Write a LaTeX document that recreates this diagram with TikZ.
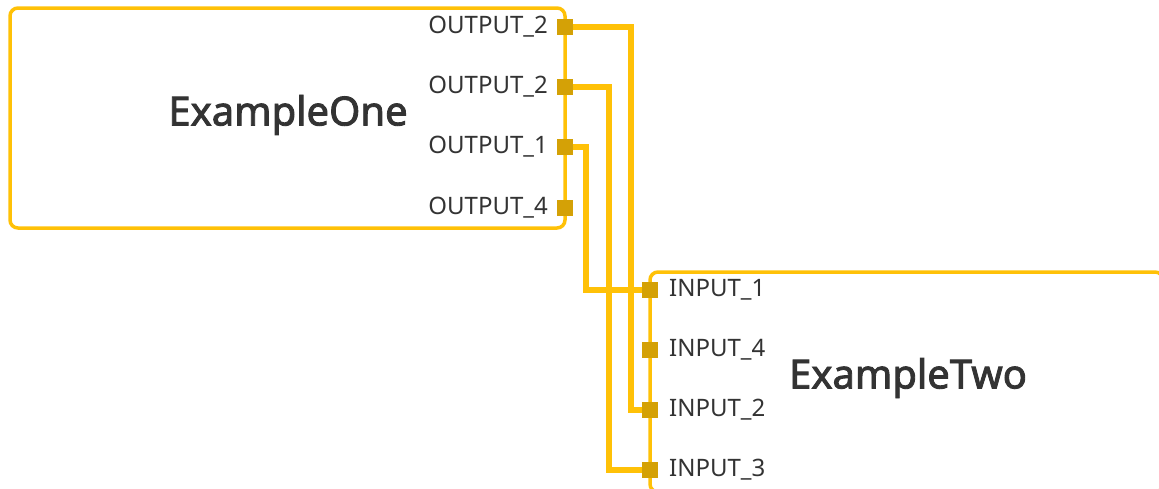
\documentclass[tikz,border=0pt]{standalone}
\usepackage{fontspec}
\setmainfont{Noto Sans}
\newfontfamily\titlefont[FakeBold=2.2]{Noto Sans}
\usetikzlibrary{backgrounds}
\definecolor{amber}{HTML}{FFC107}
\definecolor{portc}{HTML}{D4A106}
\definecolor{txt}{HTML}{333333}
\begin{document}
\begin{tikzpicture}[x=1pt,y=-1pt,
  box/.style={draw=amber,line width=3.5pt,rounded corners=8pt,inner sep=0pt,outer sep=0pt},
  port/.style={fill=portc,minimum size=16pt,inner sep=0pt,outer sep=0pt},
  plabel/.style={text=txt,font=\fontsize{24}{28}\selectfont,inner sep=0pt},
  title/.style={text=txt,font=\titlefont\fontsize{40}{46}\selectfont,inner sep=0pt},
  wire/.style={draw=amber,line width=6.5pt}]
\useasboundingbox (0,0) rectangle (1159,488);
\clip (0,0) rectangle (1159,488);
% boxes
\node (box1) [box,anchor=north west,minimum width=555pt,minimum height=220pt] at (10,8) {};
\node (box2) [box,anchor=north west,minimum width=513pt,minimum height=220pt] at (650,272) {};
\node (t1) [title] at (288,115) {ExampleOne};
\node (t2) [title] at (908,378) {ExampleTwo};
% output ports
\node (o1) [port] at (565,27) {};
\node (o2) [port] at (565,87) {};
\node (o3) [port] at (565,147) {};
\node (o4) [port] at (565,208) {};
\node (lo1) [plabel,anchor=east] at (548,27) {OUTPUT\_2};
\node (lo2) [plabel,anchor=east] at (548,87) {OUTPUT\_2};
\node (lo3) [plabel,anchor=east] at (548,147) {OUTPUT\_1};
\node (lo4) [plabel,anchor=east] at (548,208) {OUTPUT\_4};
% input ports
\node (i1) [port] at (650,290) {};
\node (i2) [port] at (650,350) {};
\node (i3) [port] at (650,410) {};
\node (i4) [port] at (650,470) {};
\node (li1) [plabel,anchor=west] at (669,290) {INPUT\_1};
\node (li2) [plabel,anchor=west] at (669,350) {INPUT\_4};
\node (li3) [plabel,anchor=west] at (669,410) {INPUT\_2};
\node (li4) [plabel,anchor=west] at (669,470) {INPUT\_3};
% wires
\begin{scope}[on background layer]
\draw[wire] (o1.center) -- ++(66,0) |- (i3.center);
\draw[wire] (o2.center) -- ++(44,0) |- (i4.center);
\draw[wire] (o3.center) -- ++(21,0) |- (i1.center);
\end{scope}
\end{tikzpicture}
\end{document}
